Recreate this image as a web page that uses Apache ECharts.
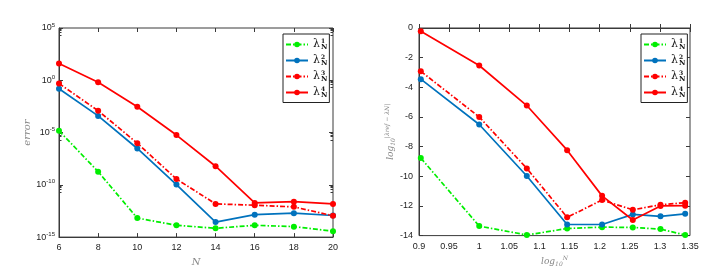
<!DOCTYPE html>
<html><head><meta charset="utf-8">
<script src="https://cdn.jsdelivr.net/npm/echarts@6/dist/echarts.min.js"></script>
<style>html,body{margin:0;padding:0;background:#fff}#c{width:717px;height:272px}</style>
</head><body><div id="c"></div>
<script>
// Left panel: N vs error (log scale)
const leftN = [6, 8, 10, 12, 14, 16, 18, 20];
const leftL1 = [1.5e-5, 1.8e-9, 6.6e-14, 1.35e-14, 7e-15, 1.35e-14, 1.0e-14, 3.7e-15];
const leftL2 = [0.155, 3.9e-4, 3.0e-7, 1.05e-10, 2.75e-14, 1.4e-13, 1.95e-13, 1.17e-13];
const leftL3 = [0.49, 1.23e-3, 9.5e-7, 3.6e-10, 1.5e-12, 1.12e-12, 7.8e-13, 1.1e-13];
const leftL4 = [40.7, 0.66, 2.9e-3, 5.75e-6, 6.0e-9, 1.86e-12, 2.45e-12, 1.48e-12];

// Right panel: log10(N) vs log10 error
const rightX = [0.903, 1.0, 1.079, 1.146, 1.204, 1.255, 1.301, 1.342];
const rightL1 = [-8.77, -13.36, -13.96, -13.52, -13.43, -13.45, -13.56, -13.96];
const rightL2 = [-3.45, -6.51, -9.98, -13.25, -13.25, -12.57, -12.70, -12.53];
const rightL3 = [-2.92, -6.0, -9.47, -12.77, -11.6, -12.26, -11.92, -11.78];
const rightL4 = [-0.22, -2.53, -5.23, -8.24, -11.32, -12.95, -12.0, -11.98];

const names = ['l1', 'l2', 'l3', 'l4'];
const supers = ['1', '2', '3', '4'];
const colors = ['#00ee00', '#0072bd', '#ff0000', '#ff0000'];
const dashes = [[5, 2, 1.5, 2], 'solid', [5, 2, 1.5, 2], 'solid'];

const axisCol = '#3a3a3a';
const lblFont = 'Liberation Sans';

function mkSeries(xs, ys, i, xi, yi) {
  return {
    name: names[i], type: 'line', xAxisIndex: xi, yAxisIndex: yi,
    data: xs.map((x, k) => [x, ys[k]]),
    symbol: 'circle', symbolSize: 6, color: colors[i],
    lineStyle: { width: 1.7, type: dashes[i], color: colors[i] },
    itemStyle: { color: colors[i] }, z: 3 + (i === 3 ? 1 : 0)
  };
}

const legendRich = {
  l: { fontFamily: 'DejaVu Serif', fontSize: 11, color: '#111', lineHeight: 14 },
  s: { fontFamily: 'DejaVu Serif', fontSize: 6, color: '#111', fontWeight: 'bold', width: 0, padding: [0, 0, 7, 1] },
  n: { fontFamily: 'DejaVu Serif', fontSize: 7, color: '#111', fontWeight: 'bold', padding: [5, 0, 0, 0] }
};
function mkLegend(left) {
  return {
    left: left, top: 34, orient: 'vertical', data: names,
    backgroundColor: '#fff', borderColor: '#222', borderWidth: 1,
    padding: [4, 2, 4, 2], itemWidth: 22, itemHeight: 7, itemGap: 3.5,
    formatter: n => '{l|λ}{s|' + supers[names.indexOf(n)] + '}{n|N}',
    textStyle: { rich: legendRich }, selectedMode: false
  };
}

const tickLblStyle = { color: '#222', fontSize: 9, fontFamily: lblFont };
const nameStyleBase = { color: '#888', fontFamily: 'DejaVu Serif', fontStyle: 'italic' };

const option = {
  animation: false,
  backgroundColor: '#fff',
  grid: [
    { left: 59, right: 384, top: 28, bottom: 31, show: true, borderColor: axisCol, borderWidth: 1, backgroundColor: '#fff' },
    { left: 419, right: 27, top: 28, bottom: 31, show: true, borderColor: axisCol, borderWidth: 1, backgroundColor: '#fff' }
  ],
  legend: [mkLegend(283), mkLegend(641)],
  xAxis: [
    { type: 'value', gridIndex: 0, min: 6, max: 20, interval: 2,
      axisLine: { lineStyle: { color: axisCol } }, axisTick: { inside: true, length: 4, lineStyle: { color: axisCol } },
      splitLine: { show: false }, axisLabel: { ...tickLblStyle, margin: 6 },
      name: 'N', nameLocation: 'middle', nameGap: 14, nameTextStyle: { ...nameStyleBase, fontSize: 10 } },
    { type: 'value', gridIndex: 1, min: 0.9, max: 1.35, interval: 0.05,
      axisLine: { lineStyle: { color: axisCol } }, axisTick: { inside: true, length: 4, lineStyle: { color: axisCol } },
      splitLine: { show: false }, axisLabel: { ...tickLblStyle, margin: 6, formatter: v => String(+v.toFixed(2)) },
      name: '{a|log}{b|10}{c|N}', nameLocation: 'middle', nameGap: 17,
      nameTextStyle: { rich: {
        a: { ...nameStyleBase, fontSize: 9 },
        b: { ...nameStyleBase, fontSize: 6, padding: [5, 0, 0, 0] },
        c: { ...nameStyleBase, fontSize: 6, padding: [0, 0, 6, 0] } } } },
    { type: 'value', gridIndex: 0, position: 'top', min: 6, max: 20, interval: 2,
      axisLine: { show: false }, axisTick: { inside: true, length: 4, lineStyle: { color: axisCol } },
      axisLabel: { show: false }, splitLine: { show: false } },
    { type: 'value', gridIndex: 1, position: 'top', min: 0.9, max: 1.35, interval: 0.05,
      axisLine: { show: false }, axisTick: { inside: true, length: 4, lineStyle: { color: axisCol } },
      axisLabel: { show: false }, splitLine: { show: false } }
  ],
  yAxis: [
    { type: 'log', gridIndex: 0, logBase: 10, min: 1e-15, max: 1e5, interval: 5,
      axisLine: { lineStyle: { color: axisCol } }, axisTick: { inside: true, length: 4, lineStyle: { color: axisCol } },
      minorTick: { show: true, splitNumber: 5, length: 2.5, lineStyle: { color: axisCol } },
      splitLine: { show: false },
      axisLabel: { margin: 4, formatter: v => {
          const e = Math.round(Math.log10(v));
          return '{b|10}{e|' + e + '}';
        }, rich: {
          b: { color: '#222', fontSize: 9, fontFamily: lblFont },
          e: { color: '#222', fontSize: 6, fontFamily: lblFont, padding: [0, 0, 6, 0] } } },
      name: 'error', nameLocation: 'middle', nameGap: 27, nameTextStyle: { ...nameStyleBase, fontSize: 10 } },
    { type: 'value', gridIndex: 1, min: -14, max: 0, interval: 2,
      axisLine: { lineStyle: { color: axisCol } }, axisTick: { inside: true, length: 4, lineStyle: { color: axisCol } },
      splitLine: { show: false }, axisLabel: { ...tickLblStyle, margin: 6 },
      name: '{a|log}{b|10}{c||λref − λN|}', nameLocation: 'middle', nameGap: 22,
      nameTextStyle: { rich: {
        a: { ...nameStyleBase, fontSize: 9 },
        b: { ...nameStyleBase, fontSize: 6, padding: [5, 0, 0, 0] },
        c: { ...nameStyleBase, fontSize: 6, padding: [0, 0, 6, 0] } } } },
    { type: 'log', gridIndex: 0, logBase: 10, position: 'right', min: 1e-15, max: 1e5, interval: 5,
      axisLine: { show: false }, axisTick: { inside: true, length: 4, lineStyle: { color: axisCol } },
      minorTick: { show: true, splitNumber: 5, length: 2.5, lineStyle: { color: axisCol } },
      axisLabel: { show: false }, splitLine: { show: false } },
    { type: 'value', gridIndex: 1, position: 'right', min: -14, max: 0, interval: 2,
      axisLine: { show: false }, axisTick: { inside: true, length: 4, lineStyle: { color: axisCol } },
      axisLabel: { show: false }, splitLine: { show: false } }
  ],
  series: [
    mkSeries(leftN, leftL1, 0, 0, 0), mkSeries(leftN, leftL2, 1, 0, 0),
    mkSeries(leftN, leftL3, 2, 0, 0), mkSeries(leftN, leftL4, 3, 0, 0),
    mkSeries(rightX, rightL1, 0, 1, 1), mkSeries(rightX, rightL2, 1, 1, 1),
    mkSeries(rightX, rightL3, 2, 1, 1), mkSeries(rightX, rightL4, 3, 1, 1)
  ]
};
const chart = echarts.init(document.getElementById('c'), null, { renderer: 'canvas' });
chart.setOption(option);
</script></body></html>
